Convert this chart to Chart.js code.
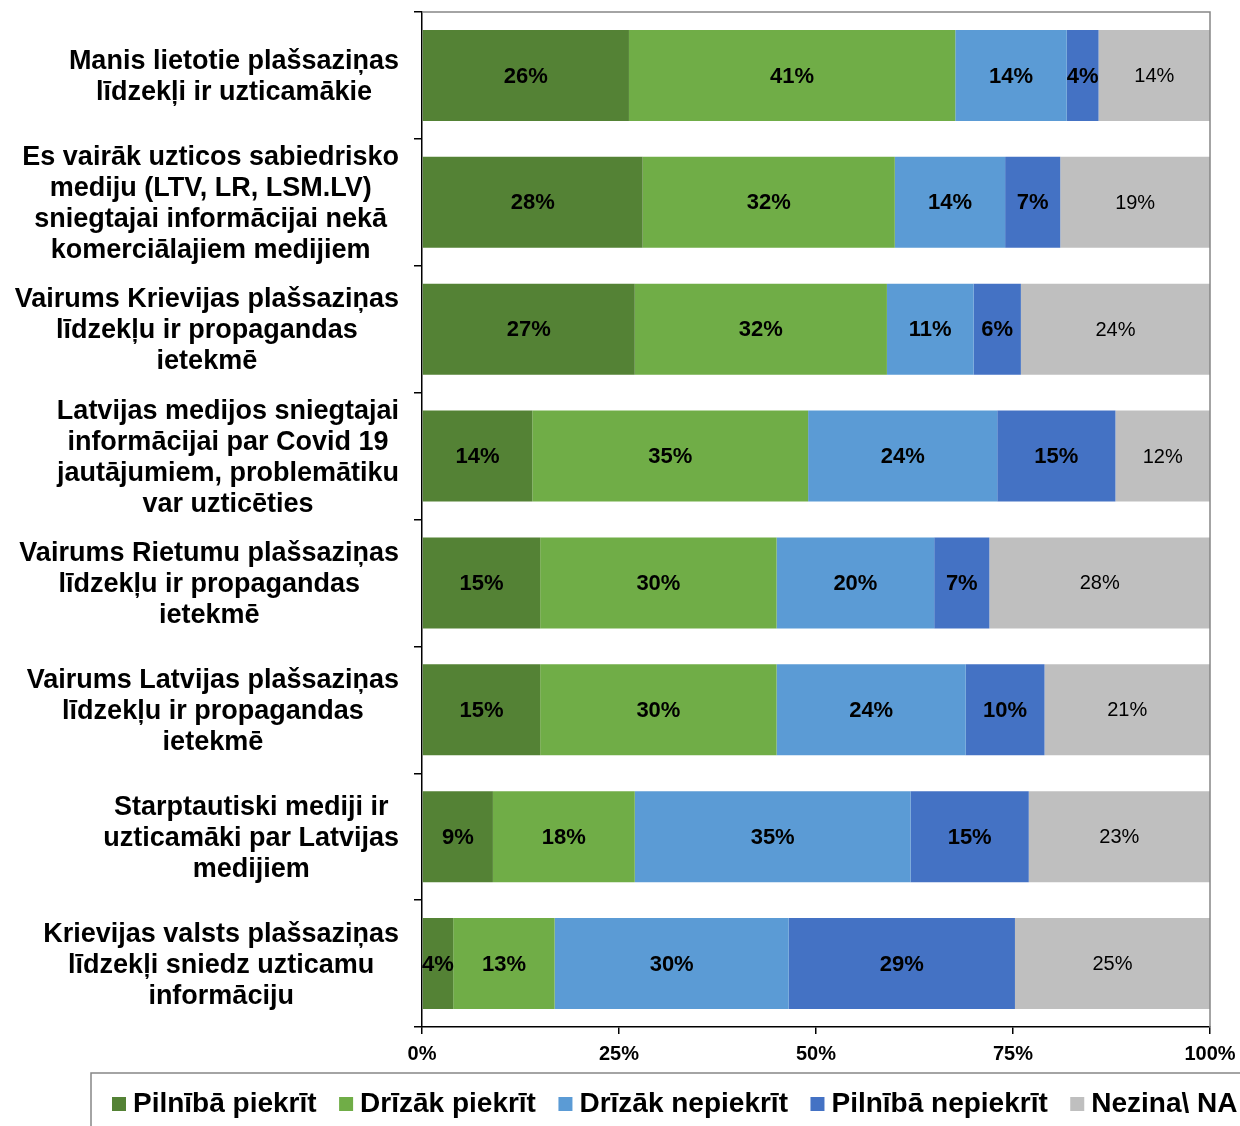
<!DOCTYPE html>
<html>
<head>
<meta charset="utf-8">
<script src="https://cdn.jsdelivr.net/npm/chart.js@4"></script>
<style>
  body { margin: 0; background: #fff; }
  canvas { display: block; }
</style>
</head>
<body>
<canvas id="chart" width="1240" height="1126"></canvas>
<script>
const categories = [
  ['Manis lietotie plašsaziņas', 'līdzekļi ir uzticamākie'],
  ['Es vairāk uzticos sabiedrisko', 'mediju (LTV, LR, LSM.LV)', 'sniegtajai informācijai nekā', 'komerciālajiem medijiem'],
  ['Vairums Krievijas plašsaziņas', 'līdzekļu ir propagandas', 'ietekmē'],
  ['Latvijas medijos sniegtajai', 'informācijai par Covid 19', 'jautājumiem, problemātiku', 'var uzticēties'],
  ['Vairums Rietumu plašsaziņas', 'līdzekļu ir propagandas', 'ietekmē'],
  ['Vairums Latvijas plašsaziņas', 'līdzekļu ir propagandas', 'ietekmē'],
  ['Starptautiski mediji ir', 'uzticamāki par Latvijas', 'medijiem'],
  ['Krievijas valsts plašsaziņas', 'līdzekļi sniedz uzticamu', 'informāciju']
];

const seriesNames = ['Pilnībā piekrīt', 'Drīzāk piekrīt', 'Drīzāk nepiekrīt', 'Pilnībā nepiekrīt', 'Nezina\\ NA'];
const seriesColors = ['#548235', '#70AD47', '#5B9BD5', '#4472C4', '#BFBFBF'];

const fullyAgree    = [26, 28, 27, 14, 15, 15,  9,  4];
const ratherAgree   = [41, 32, 32, 35, 30, 30, 18, 13];
const ratherDisagree= [14, 14, 11, 24, 20, 24, 35, 30];
const fullyDisagree = [ 4,  7,  6, 15,  7, 10, 15, 29];
const dontKnow      = [14, 19, 24, 12, 28, 21, 23, 25];

const xTicks = [0, 25, 50, 75, 100];

const FONT = '"Liberation Sans", Arial, sans-serif';
const series = [fullyAgree, ratherAgree, ratherDisagree, fullyDisagree, dontKnow];
const rowSums = categories.map((_, i) => series.reduce((s, arr) => s + arr[i], 0));

// 100% stacked: each row normalised to its own total
const datasets = series.map((arr, k) => ({
  label: seriesNames[k],
  data: arr.map((v, i) => v / rowSums[i] * 100),
  raw: arr,
  backgroundColor: seriesColors[k],
  borderWidth: 0,
  barPercentage: 0.717,
  categoryPercentage: 1
}));

const decorations = {
  id: 'decorations',
  afterDatasetsDraw(chart) {
    const ctx = chart.ctx;
    const area = chart.chartArea;
    const yScale = chart.scales.y;
    ctx.save();

    // plot frame top/right
    ctx.strokeStyle = '#868686';
    ctx.lineWidth = 1.5;
    ctx.beginPath();
    ctx.moveTo(area.left, area.top);
    ctx.lineTo(area.right, area.top);
    ctx.lineTo(area.right, area.bottom);
    ctx.stroke();

    // value labels
    ctx.textAlign = 'center';
    ctx.textBaseline = 'middle';
    chart.data.datasets.forEach((ds, k) => {
      const meta = chart.getDatasetMeta(k);
      ctx.font = (k === 4 ? 'normal 20px ' : 'bold 22px ') + FONT;
      ctx.fillStyle = '#000';
      meta.data.forEach((bar, i) => {
        const cx = (bar.x + bar.base) / 2;
        ctx.fillText(ds.raw[i] + '%', cx, bar.y + 1);
      });
    });

    // category labels: lines centred on each other, block right-aligned
    ctx.font = 'bold 27px ' + FONT;
    ctx.fillStyle = '#000';
    const lineH = 31;
    categories.forEach((lines, i) => {
      const widest = Math.max(...lines.map(l => ctx.measureText(l).width));
      const cx = 399 - widest / 2;
      const cy = yScale.getPixelForValue(i) + 1.5;
      const y0 = cy - (lines.length - 1) * lineH / 2;
      lines.forEach((l, j) => ctx.fillText(l, cx, y0 + j * lineH));
    });

    // legend box
    ctx.strokeStyle = '#868686';
    ctx.lineWidth = 1.5;
    ctx.strokeRect(91, 1073, 1200, 80);
    ctx.font = 'bold 28px ' + FONT;
    ctx.textAlign = 'left';
    let x = 112;
    const ly = 1104;
    seriesNames.forEach((name, k) => {
      ctx.fillStyle = seriesColors[k];
      ctx.fillRect(x, ly - 7, 14, 14);
      ctx.fillStyle = '#000';
      ctx.fillText(name, x + 21, ly);
      x += 21 + ctx.measureText(name).width + 22.5;
    });

    ctx.restore();
  }
};

new Chart(document.getElementById('chart'), {
  type: 'bar',
  data: {
    labels: categories.map(c => c.join(' ')),
    datasets: datasets
  },
  options: {
    indexAxis: 'y',
    responsive: false,
    animation: false,
    layout: { padding: { top: 12, right: 30, bottom: 59, left: 0 } },
    plugins: {
      legend: { display: false },
      tooltip: { enabled: false }
    },
    scales: {
      x: {
        stacked: true,
        min: 0,
        max: 100,
        afterBuildTicks: s => { s.ticks = xTicks.map(v => ({ value: v })); },
        afterFit: s => { s.height = 40; s.paddingRight = 0; },
        border: { color: '#000', width: 1.5 },
        grid: { drawOnChartArea: false, drawTicks: true, tickLength: 7, color: '#000', lineWidth: 1.5 },
        ticks: {
          padding: 8,
          color: '#000',
          font: { family: FONT, size: 20, weight: 'bold' },
          callback: v => v + '%'
        }
      },
      y: {
        stacked: true,
        afterFit: s => { s.width = 422; },
        border: { color: '#000', width: 1.5 },
        grid: { offset: true, drawOnChartArea: false, drawTicks: true, tickLength: 8, color: '#000', lineWidth: 1.5 },
        ticks: { display: false }
      }
    }
  },
  plugins: [decorations]
});
</script>
</body>
</html>
